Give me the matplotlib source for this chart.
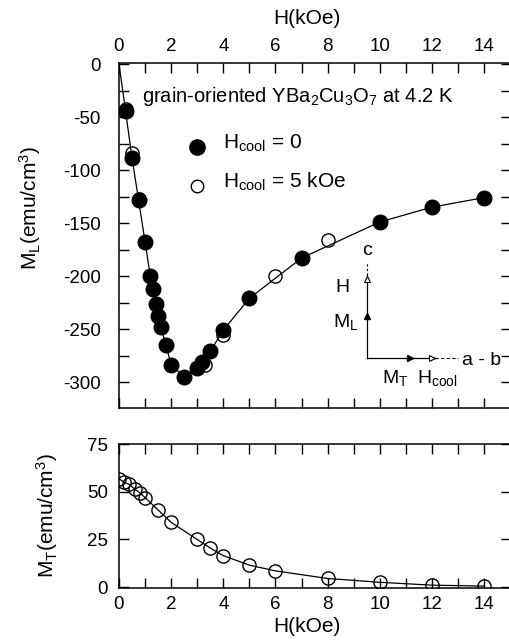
import matplotlib
matplotlib.use("Agg")
import matplotlib.pyplot as plt
from matplotlib.ticker import MultipleLocator

plt.rcParams['font.family'] = ['Liberation Sans', 'DejaVu Sans']
plt.rcParams['mathtext.fontset'] = 'custom'
plt.rcParams['mathtext.rm'] = 'Liberation Sans'
plt.rcParams['mathtext.it'] = 'Liberation Sans:italic'
plt.rcParams['mathtext.bf'] = 'Liberation Sans:bold'
plt.rcParams['axes.unicode_minus'] = False

# ---- data ----
H_filled = [0.25, 0.5, 0.75, 1.0, 1.2, 1.3, 1.4, 1.5, 1.6, 1.8, 2.0, 2.5,
            3.0, 3.2, 3.5, 4.0, 5.0, 7.0, 10.0, 12.0, 14.0]
ML_filled = [-44, -89, -128, -168, -200, -212, -226, -238, -248, -265, -284, -295,
             -287, -281, -271, -251, -221, -183, -149, -135, -126]
H_open = [0.25, 0.5, 0.75, 3.3, 4.0, 6.0, 8.0]
ML_open = [-42, -84, -127, -284, -256, -200, -166]
H_start = [0.0]
ML_start = [0.0]

H_T = [0.0, 0.2, 0.4, 0.6, 0.8, 1.0, 1.5, 2.0, 3.0, 3.5, 4.0, 5.0, 6.0, 8.0, 10.0, 12.0, 14.0]
MT = [57, 55, 54, 51.5, 49.5, 47, 40.5, 34, 25, 20.5, 16.5, 11.5, 8.5, 4.5, 2.5, 1.0, 0.5]

top_ticks = [0, 2, 4, 6, 8, 10, 12, 14]
ML_ticks = [0, -50, -100, -150, -200, -250, -300]
MT_ticks = [0, 25, 50, 75]

W, Hf = 509, 641
fig = plt.figure(figsize=(W / 100, Hf / 100), dpi=100)

left = 119 / W
width = (511 - 119) / W
ax1 = fig.add_axes([left, 1 - 408 / Hf, width, (408 - 63) / Hf])
ax2 = fig.add_axes([left, 1 - 588 / Hf, width, (588 - 444) / Hf])

lw_sp = 1.1
for ax in (ax1, ax2):
    for s in ax.spines.values():
        s.set_linewidth(lw_sp)
    ax.set_xlim(0, 15.03)
    ax.xaxis.set_major_locator(MultipleLocator(2))
    ax.xaxis.set_minor_locator(MultipleLocator(1))
    ax.tick_params(which='both', direction='in', top=True, right=True,
                   length=7, width=1.0, labelsize=13.5)
    ax.tick_params(axis='x', pad=6)

# ---- upper panel ----
curve_H = H_start + H_filled
curve_M = ML_start + ML_filled
ax1.plot(curve_H, curve_M, color='black', lw=0.9, zorder=2)
ax1.plot(H_open, ML_open, 'o', ms=9.5, mfc='none', mec='black', mew=1.0, zorder=3)
ax1.plot(H_filled, ML_filled, 'o', ms=10.5, mfc='black', mec='black', zorder=4)
ax1.set_ylim(-324.5, 1.0)
ax1.set_yticks(ML_ticks)
ax1.yaxis.set_minor_locator(MultipleLocator(25))
ax1.tick_params(axis='y', pad=13)
ax1.tick_params(axis='x', labelbottom=False, labeltop=True)
ax1.set_xticks(top_ticks)
ax1.xaxis.set_label_position('top')
ax1.set_xlabel('H(kOe)', fontsize=15)
ax1.xaxis.set_label_coords(0.48, 1.113)
ax1.set_ylabel(r'M$_\mathrm{L}$(emu/cm$^\mathrm{3}$)', fontsize=15)
ax1.yaxis.set_label_coords(-0.195, 0.58)

ax1.text(0.87, -35.5, r'grain-oriented YBa$_\mathrm{2}$Cu$_\mathrm{3}$O$_\mathrm{7}$ at 4.2 K',
         fontsize=14.5, ha='left', va='baseline')

# legend (manual)
ax1.plot([2.99], [-78], 'o', ms=11, mfc='black', mec='black')
ax1.text(3.99, -80, r'H$_\mathrm{cool}$ = 0', fontsize=15, ha='left', va='baseline')
ax1.plot([2.99], [-115.5], 'o', ms=9, mfc='none', mec='black', mew=1.0)
ax1.text(3.99, -117, r'H$_\mathrm{cool}$ = 5 kOe', fontsize=15, ha='left', va='baseline')

# orientation diagram
x0, y0 = 9.51, -277
ax1.plot([x0, x0], [y0, -199], color='black', lw=0.9)
ax1.plot([x0, x0], [-199, -187], color='black', lw=0.8, ls=(0, (2, 2)))
ax1.plot([x0], [-238], '^', ms=5, mfc='black', mec='black')
ax1.plot([x0], [-203], '^', ms=5, mfc='white', mec='black', mew=0.8)
ax1.plot([x0, 12.1], [y0, y0], color='black', lw=0.9)
ax1.plot([12.1, 13.0], [y0, y0], color='black', lw=0.8, ls=(0, (3, 2)))
ax1.plot([11.15], [y0], '>', ms=5, mfc='black', mec='black')
ax1.plot([12.0], [y0], '>', ms=5, mfc='white', mec='black', mew=0.8)
ax1.text(x0, -180, 'c', fontsize=14, ha='center', va='baseline')
ax1.text(8.29, -214.8, 'H', fontsize=14, ha='left', va='baseline')
ax1.text(8.2, -248, r'M$_\mathrm{L}$', fontsize=14, ha='left', va='baseline')
ax1.text(13.15, -284, 'a - b', fontsize=14, ha='left', va='baseline')
ax1.text(10.07, -301, r'M$_\mathrm{T}$', fontsize=14, ha='left', va='baseline')
ax1.text(11.42, -301, r'H$_\mathrm{cool}$', fontsize=14, ha='left', va='baseline')

# ---- lower panel ----
ax2.plot(H_T, MT, color='black', lw=0.9, zorder=2)
ax2.plot(H_T, MT, 'o', ms=9.5, mfc='none', mec='black', mew=1.0, zorder=3)
ax2.set_ylim(-0.5, 75.2)
ax2.set_yticks(MT_ticks)
ax2.tick_params(axis='y', pad=8)
ax2.set_xticks(top_ticks)
ax2.set_xlabel('H(kOe)', fontsize=15)
ax2.xaxis.set_label_coords(0.48, -0.2)
ax2.set_ylabel(r'M$_\mathrm{T}$(emu/cm$^\mathrm{3}$)', fontsize=15)
ax2.yaxis.set_label_coords(-0.15, 0.5)

fig.savefig('out.png', dpi=100)
